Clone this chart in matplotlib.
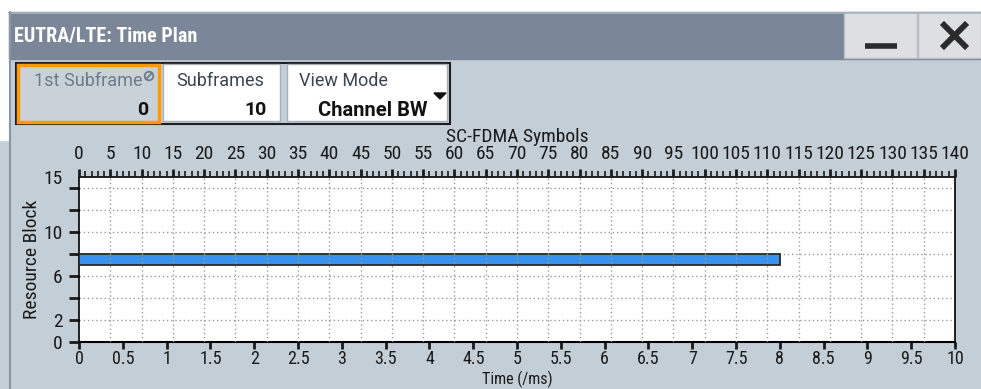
import numpy as np
import matplotlib.pyplot as plt
import matplotlib.font_manager as fm
from matplotlib.patches import Rectangle, Polygon

# %% DATA
time_ticks = np.arange(0, 10.01, 0.5)           # bottom axis (ms)
symbol_major = np.arange(0, 141, 5)             # top axis (SC-FDMA symbols)
symbol_minor = np.arange(0, 141, 1)
rb_ticks = [0, 2, 4, 6, 8, 10, 12, 14, 15]
rb_labels = ['0', '2', '', '6', '', '10', '', '', '15']
rb_grid = [2, 4, 6, 8, 10, 12, 14]

# one allocation: resource block 7..8, from 0 ms to 8 ms
alloc_start = [0.0]
alloc_len = [8.0]
alloc_rb = [7.0]
alloc_height = [1.0]

fields = ['1st Subframe', 'Subframes', 'View Mode']
field_values = ['0', '10', 'Channel BW']

# %% FONTS
names = {f.name for f in fm.fontManager.ttflist}
cond = 'Roboto Condensed' if 'Roboto Condensed' in names else 'Roboto'
tick_size = 14 if cond == 'Roboto Condensed' else 11.5
plt.rcParams['font.family'] = [cond, 'DejaVu Sans']

BG = '#C4CED6'
fig = plt.figure(figsize=(9.81, 3.89), dpi=100, facecolor=BG)

# %% WINDOW CHROME (pixel coordinates)
bg = fig.add_axes([0, 0, 1, 1], zorder=0)
bg.set_xlim(0, 981)
bg.set_ylim(389, 0)
bg.axis('off')

bg.add_patch(Rectangle((0, 0), 981, 12, color='white'))
bg.add_patch(Rectangle((0, 0), 9, 140, color='white'))
bg.add_patch(Rectangle((9, 12), 972, 47, color='#7B8698'))
bg.plot([9, 981], [12.5, 12.5], color='#A9B3C2', lw=1.2)
bg.plot([9.5, 9.5], [12, 389], color='#8A95A5', lw=1.5)
bg.text(14, 36, 'EUTRA/LTE: Time Plan', color='white', fontsize=14.5,
        fontweight='bold', va='center', ha='left')

# minimize / close buttons
bg.add_patch(Rectangle((844, 12), 73, 46, facecolor='#DDDFE3', edgecolor='#B9BDC4', lw=1))
bg.add_patch(Rectangle((918, 12), 63, 46, facecolor='#DDDFE3', edgecolor='#B9BDC4', lw=1))
bg.plot([865, 897], [45.5, 45.5], color='#2B2B2B', lw=4, solid_capstyle='butt')
bg.plot([944, 965], [25, 46], color='#2B2B2B', lw=4.2)
bg.plot([944, 965], [46, 25], color='#2B2B2B', lw=4.2)

# control row
bg.add_patch(Rectangle((16, 63), 434, 61, facecolor='none', edgecolor='#1E1E1E', lw=1.5))
bg.add_patch(Rectangle((18, 65), 141, 57, facecolor='#C9D2D9', edgecolor='#FF9A00', lw=2.5))
bg.add_patch(Rectangle((163, 64), 117, 57, facecolor='white', edgecolor='#A8B0B8', lw=1))
bg.add_patch(Rectangle((287, 64), 160, 57, facecolor='white', edgecolor='#A8B0B8', lw=1))

bg.text(34, 81, fields[0], color='#6E7C89', fontsize=13, family='Roboto', va='center')
bg.add_patch(plt.Circle((149, 76), 4.3, facecolor='none', edgecolor='#6E7C89', lw=1.3))
bg.plot([146, 152], [79, 73], color='#6E7C89', lw=1.3)
bg.text(148, 110, field_values[0], color='#111111', fontsize=14, family='Roboto',
        fontweight='bold', ha='right', va='center')

bg.text(176, 81, fields[1], color='#3A4552', fontsize=13, family='Roboto', va='center')
bg.text(267, 110, field_values[1], color='#111111', fontsize=14, family='Roboto',
        fontweight='bold', ha='right', va='center')

bg.text(299, 81, fields[2], color='#3A4552', fontsize=13, family='Roboto', va='center')
bg.text(428, 110, field_values[2], color='#111111', fontsize=14.5, family='Roboto',
        fontweight='bold', ha='right', va='center')
bg.add_patch(Polygon([[434, 93], [446, 93], [440, 99]], closed=True, color='#111111'))

# %% PLOT AREA
L, R, T, B = 79, 955, 177, 342
ax = fig.add_axes([L / 981, 1 - B / 389, (R - L) / 981, (B - T) / 389], zorder=2)
ax.set_facecolor('white')

ax.barh(alloc_rb, alloc_len, height=alloc_height, left=alloc_start, align='edge',
        color='#3793EE', edgecolor='#2A2A2A', lw=1.3, zorder=3)

ax.set_xlim(0, 10)
ax.set_ylim(0, 15)
ax.set_xticks(time_ticks)
ax.set_xticklabels(['%g' % t for t in time_ticks])
ax.set_yticks(rb_ticks)
ax.set_yticklabels(rb_labels)
ax.tick_params(axis='x', direction='out', length=5, width=2, pad=1,
               labelsize=13, colors='#1A1A1A')
ax.tick_params(axis='y', direction='out', length=7, width=2, pad=5,
               labelsize=tick_size, colors='#1A1A1A')
ax.yaxis.get_major_ticks()[-1].tick1line.set_visible(False)
for yv in rb_grid:
    ax.axhline(yv, color='#9A9A9A', lw=1, ls=(0, (1, 2)), zorder=1)

ax.set_xlabel('Time (/ms)', fontsize=11.5, color='#1A1A1A')
ax.xaxis.label.set_va('bottom')
ax.xaxis.set_label_coords(0.5, (342 - 388.5) / 165)
ax.set_ylabel('Resource Block', fontsize=tick_size, color='#1A1A1A')
ax.yaxis.set_label_coords(-0.043, 0.5)

for s in ['left', 'top', 'right']:
    ax.spines[s].set_linestyle((0, (1, 1)))
    ax.spines[s].set_linewidth(1.2)
ax.spines['bottom'].set_linewidth(1.5)

# top axis: SC-FDMA symbols
top = ax.twiny()
top.set_xlim(0, 140)
top.set_xticks(symbol_major)
top.set_xticks(symbol_minor, minor=True)
top.tick_params(axis='x', which='major', direction='out', length=6, width=2, pad=4,
                labelsize=tick_size, colors='#1A1A1A')
top.tick_params(axis='x', which='minor', direction='out', length=4, width=1.2,
                colors='#1A1A1A')
for xv in symbol_major[1:-1]:
    top.axvline(xv, color='#9A9A9A', lw=1, ls=(0, (1, 2)), zorder=1)
top.set_xlabel('SC-FDMA Symbols', fontsize=tick_size, labelpad=2, color='#1A1A1A')
for s in top.spines.values():
    s.set_visible(False)

fig.savefig('out.png', dpi=100, facecolor=BG)
